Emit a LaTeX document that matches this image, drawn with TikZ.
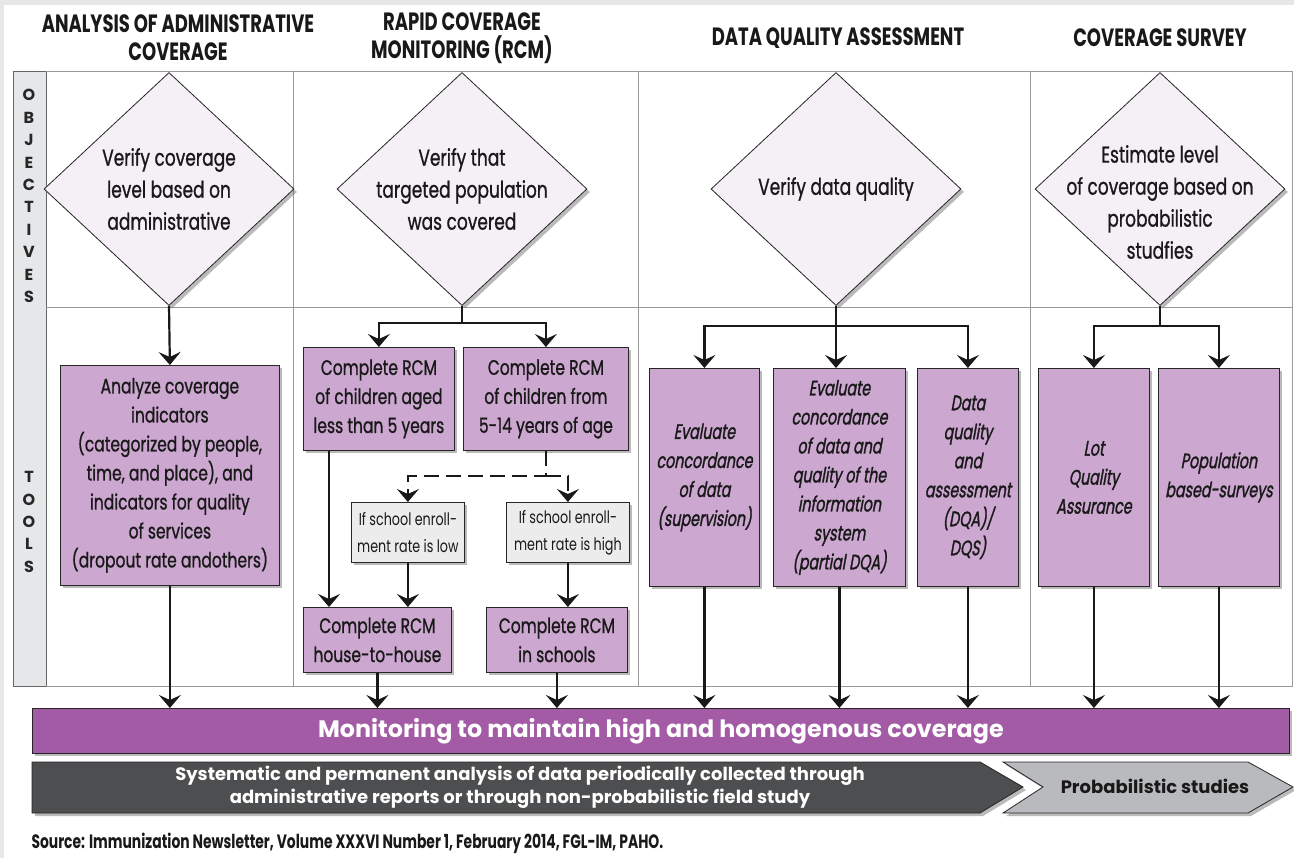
\documentclass[tikz,border=0pt]{standalone}
\usepackage{fontspec}
\setmainfont{Poppins}[FakeStretch=0.74,FakeBold=0.9]
\newfontfamily\widefont{Poppins}
\newfontfamily\lightfont{Poppins}[FakeStretch=0.74]
\newfontfamily\headfont{Poppins}[FakeStretch=0.72]
\newfontfamily\slantfont{Poppins}[FakeStretch=0.68,FakeSlant=0.18,FakeBold=1.3]
\usetikzlibrary{positioning,arrows.meta,shapes.geometric,shadows}
\definecolor{pagegray}{RGB}{230,231,233}
\definecolor{objfill}{RGB}{245,239,246}
\definecolor{toolfill}{RGB}{204,167,208}
\definecolor{condfill}{RGB}{236,236,237}
\definecolor{barfill}{RGB}{162,91,164}
\definecolor{darkarrow}{RGB}{77,78,80}
\definecolor{lightarrow}{RGB}{185,186,189}
\tikzset{
    soft shadow/.style={drop shadow={shadow xshift=3pt, shadow yshift=-3pt, opacity=0.45, fill=black!60}},
    obj diamond/.style={diamond, draw=black!85, line width=0.8pt, fill=objfill, minimum width=250pt, minimum height=233pt, inner sep=0pt, soft shadow},
    obj text/.style={align=center, inner sep=0pt, font=\fontsize{23}{32}\selectfont, text=black!90},
    tool box/.style={rectangle, draw=black!85, line width=0.8pt, fill=toolfill, align=center, inner sep=2pt, anchor=north west, soft shadow, font=\fontsize{21}{29}\selectfont, text=black!90},
    tool italic/.style={tool box, font=\slantfont\fontsize{21}{29}\selectfont},
    cond box/.style={tool box, fill=condfill, font=\lightfont\fontsize{17.2}{27}\selectfont},
    flow/.style={-{Stealth[length=13pt, width=22pt, inset=5pt]}, line width=2.2pt, black!90},
    dash flow/.style={flow, dash pattern=on 15pt off 7pt},
    trunk/.style={line width=2.2pt, black!90},
    grid line/.style={black!40, line width=0.9pt},
    head label/.style={align=center, font=\headfont\bfseries\fontsize{25}{28}\selectfont, text=black!90},
    stripe label/.style={align=center, font=\widefont\bfseries\fontsize{16}{22.4}\selectfont, text=black!85},
    band text/.style={align=center, font=\widefont\bfseries\fontsize{18}{23}\selectfont}
}
\begin{document}
\begin{tikzpicture}[x=1pt, y=-1pt]
    \useasboundingbox (0,0) rectangle (1294,858);
    \fill[pagegray] (0,0) rectangle (1294,858);
    \fill[white] (4,5) rectangle (1294,858);

    % Column headers
    \node[head label] (hAdmin) at (178,38) {ANALYSIS OF ADMINISTRATIVE\\COVERAGE};
    \node[head label] (hRcm) at (462,38) {RAPID COVERAGE\\MONITORING (RCM)};
    \node[head label] (hDqa) at (838,38) {DATA QUALITY ASSESSMENT};
    \node[head label] (hSurvey) at (1160,38) {COVERAGE SURVEY};

    % Table grid
    \fill[pagegray] (13,71) rectangle (46,686);
    \draw[black!60, line width=0.9pt] (13,71) rectangle (46,686);
    \draw[grid line] (46,71) -- (1292,71) -- (1292,686) -- (46,686);
    \foreach \cx in {293,638,1030}
        \draw[grid line] (\cx,71) -- (\cx,686);
    \draw[grid line] (46,307) -- (1292,307);
    \node[stripe label] (sObj) at (29,196) {O\\B\\J\\E\\C\\T\\I\\V\\E\\S};
    \node[stripe label] (sTools) at (29,522) {T\\O\\O\\L\\S};

    % Objectives
    \node[obj diamond] (d1) at (169,189) {};
    \node[obj text] (d1t) at (d1) {Verify coverage\\level based on\\administrative};
    \node[obj diamond] (d2) at (462,189) {};
    \node[obj text] (d2t) at (d2) {Verify that\\targeted population\\was covered};
    \node[obj diamond] (d3) at (836,189) {};
    \node[obj text] (d3t) at (d3) {Verify data quality};
    \node[obj diamond] (d4) at (1160,189) {};
    \node[obj text] (d4t) at ([yshift=-13pt]d4.center) {Estimate level\\of coverage based on\\probabilistic\\studfies};

    % Tools
    \node[tool box, minimum width=219pt, minimum height=220pt] (analyze) at (60,365)
        {Analyze coverage\\indicators\\(categorized by people,\\time, and place), and\\indicators for quality\\of services\\(dropout rate andothers)};
    \node[tool box, minimum width=151pt, minimum height=103pt] (rcmA) at (303,347) {Complete RCM\\of children aged\\less than 5 years};
    \node[tool box, minimum width=165pt, minimum height=103pt] (rcmB) at (463,347) {Complete RCM\\of children from\\5-14 years of age};
    \node[cond box, minimum width=113pt, minimum height=60pt] (lowc) at (351,502) {If school enroll-\\ment rate is low};
    \node[cond box, minimum width=123pt, minimum height=60pt] (highc) at (506,502) {If school enroll-\\ment rate is high};
    \node[tool box, minimum width=148pt, minimum height=65pt] (house) at (303,607) {Complete RCM\\house-to-house};
    \node[tool box, minimum width=141pt, minimum height=65pt] (school) at (486,607) {Complete RCM\\in schools};
    \node[tool italic, minimum width=110pt, minimum height=218pt] (dqaA) at (649,368) {Evaluate\\concordance\\of data\\(supervision)};
    \node[tool italic, minimum width=132pt, minimum height=218pt] (dqaB) at (773,368) {Evaluate\\concordance\\of data and\\quality of the\\information\\system\\(partial DQA)};
    \node[tool italic, minimum width=101pt, minimum height=218pt] (dqaC) at (917,368) {Data\\quality\\and\\assessment\\(DQA)/\\DQS)};
    \node[tool italic, minimum width=111pt, minimum height=218pt] (lqa) at (1038,368) {Lot\\Quality\\Assurance};
    \node[tool italic, minimum width=121pt, minimum height=218pt] (popu) at (1158,368) {Population\\based-surveys};

    % Bottom bands
    \node[rectangle, draw=black!85, line width=0.8pt, fill=barfill, soft shadow, anchor=north west,
        minimum width=1257pt, minimum height=45pt, text=white, font=\widefont\bfseries\fontsize{23.8}{26}\selectfont]
        (monitor) at (32,708) {Monitoring to maintain high and homogenous coverage};
    \draw[draw=black!85, line width=0.8pt, fill=darkarrow, soft shadow]
        (32,762) -- (980,762) -- (1023,787) -- (980,813) -- (32,813) -- cycle;
    \node[band text, text=white] (sysText) at (520,787)
        {Systematic and permanent analysis of data periodically collected through\\administrative reports or through non-probabilistic field study};
    \draw[draw=black!85, line width=0.8pt, fill=lightarrow, soft shadow]
        (1003,762) -- (1248,762) -- (1293,787) -- (1248,813) -- (1003,813) -- (1043,787) -- cycle;
    \node[band text, text=black!90] (probText) at (1155,786) {Probabilistic studies};
    \node[anchor=west, font=\headfont\bfseries\fontsize{19.3}{21}\selectfont, text=black!90] (source) at (28,843)
        {Source: Immunization Newsletter, Volume XXXVI Number 1, February 2014, FGL-IM, PAHO.};

    % Connectors: administrative coverage
    \draw[flow] (d1.south) -- (analyze.north);
    \draw[flow] (analyze.south) -- (analyze.south |- monitor.north);

    % Connectors: RCM
    \draw[trunk] (d2.south) -- ++(0,17) coordinate (j2);
    \draw[flow] (j2) -| (rcmA.north);
    \draw[flow] (j2) -| (rcmB.north);
    \draw[flow] ([xshift=26pt]rcmA.south west) -- ([xshift=26pt]rcmA.south west |- house.north);
    \draw[dash flow] (rcmB.south) -- ++(0,25) coordinate (j3) -| (lowc.north);
    \draw[dash flow] (j3) -| (highc.north);
    \draw[flow] (lowc.south) -- (lowc.south |- house.north);
    \draw[flow] (highc.south) -- (highc.south |- school.north);
    \draw[flow] (house.south) -- (house.south |- monitor.north);
    \draw[flow] (school.south) -- (school.south |- monitor.north);

    % Connectors: data quality
    \draw[trunk] (d3.south) -- ++(0,20) coordinate (j4);
    \draw[flow] (j4) -| (dqaA.north);
    \draw[flow] (d3.south) -- (d3.south |- dqaB.north);
    \draw[flow] (j4) -| (dqaC.north);
    \foreach \b in {dqaA,dqaB,dqaC}
        \draw[flow] (\b.south) -- (\b.south |- monitor.north);

    % Connectors: coverage survey
    \draw[trunk] (d4.south) -- ++(0,20) coordinate (j5);
    \draw[flow] (j5) -| (lqa.north);
    \draw[flow] (j5) -| (popu.north);
    \foreach \b in {lqa,popu}
        \draw[flow] (\b.south) -- (\b.south |- monitor.north);
\end{tikzpicture}
\end{document}
